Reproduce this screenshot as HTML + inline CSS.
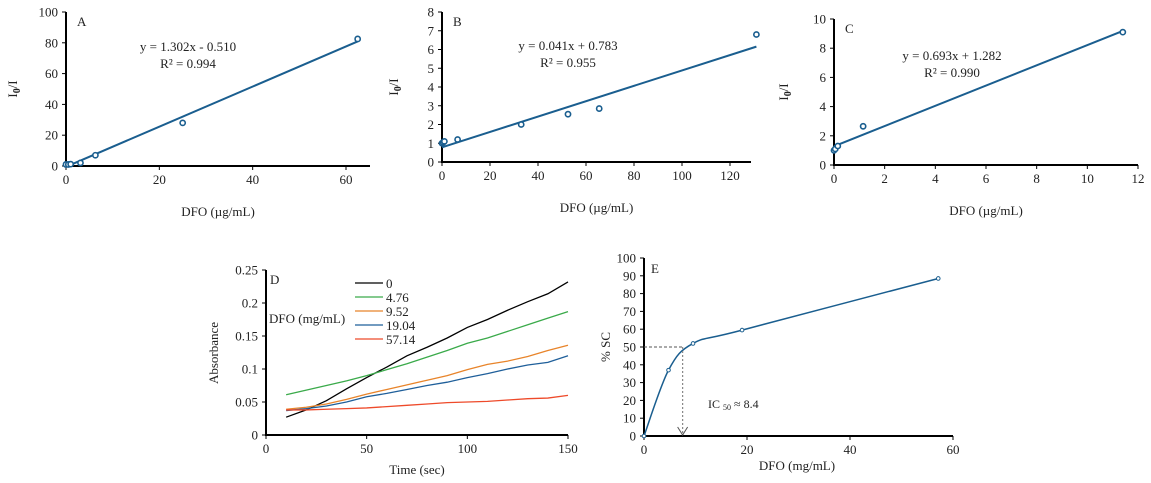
<!DOCTYPE html>
<html><head><meta charset="utf-8">
<style>
html,body{margin:0;padding:0;background:#fff;}
svg{display:block;font-family:"Liberation Serif",serif;}
</style></head>
<body>
<svg id="fig" width="1151" height="483" viewBox="0 0 1151 483" xmlns="http://www.w3.org/2000/svg"></svg>
<script>
// ---- Panel A data ----
const aX = [0, 0.5, 1, 3.1, 6.3, 25, 62.5];
const aY = [1, 1, 1.2, 2, 7, 28, 82.5];
const aXTicks = [0, 20, 40, 60];
const aYTicks = [0, 20, 40, 60, 80, 100];
// ---- Panel B data ----
const bX = [0, 0.5, 1, 6.5, 33, 52.5, 65.5, 131];
const bY = [1, 1.05, 1.1, 1.2, 2, 2.55, 2.85, 6.8];
const bXTicks = [0, 20, 40, 60, 80, 100, 120];
const bYTicks = [0, 1, 2, 3, 4, 5, 6, 7, 8];
// ---- Panel C data ----
const cX = [0, 0.05, 0.15, 1.15, 11.4];
const cY = [1, 1.1, 1.3, 2.65, 9.1];
const cXTicks = [0, 2, 4, 6, 8, 10, 12];
const cYTicks = [0, 2, 4, 6, 8, 10];
// ---- Panel D data ----
const dTime = [10, 20, 30, 40, 50, 60, 70, 80, 90, 100, 110, 120, 130, 140, 150];
const dLabels = ["0", "4.76", "9.52", "19.04", "57.14"];
const d0 = [0.027, 0.038, 0.052, 0.07, 0.087, 0.103, 0.12, 0.133, 0.147, 0.163, 0.175, 0.189, 0.202, 0.214, 0.232];
const d476 = [0.061, 0.068, 0.075, 0.082, 0.09, 0.099, 0.108, 0.118, 0.128, 0.139, 0.147, 0.157, 0.167, 0.177, 0.187];
const d952 = [0.039, 0.042, 0.047, 0.054, 0.062, 0.069, 0.076, 0.083, 0.09, 0.099, 0.107, 0.112, 0.119, 0.128, 0.136];
const d1904 = [0.037, 0.04, 0.044, 0.05, 0.058, 0.063, 0.069, 0.075, 0.08, 0.087, 0.093, 0.1, 0.106, 0.11, 0.12];
const d5714 = [0.038, 0.038, 0.039, 0.04, 0.041, 0.043, 0.045, 0.047, 0.049, 0.05, 0.051, 0.053, 0.055, 0.056, 0.06];
const dXTicks = [0, 50, 100, 150];
const dYTicks = ["0", "0.05", "0.1", "0.15", "0.2", "0.25"];
// ---- Panel E data ----
const eX = [0, 4.76, 9.52, 19.04, 57.14];
const eY = [0, 37, 52, 59.5, 88.5];
const eXTicks = [0, 20, 40, 60];
const eYTicks = [0, 10, 20, 30, 40, 50, 60, 70, 80, 90, 100];
const eIC50 = 7.5;

const NS = "http://www.w3.org/2000/svg";
const svg = document.getElementById('fig');
function mk(tag, attrs, parent, text) {
  const e = document.createElementNS(NS, tag);
  for (const k in attrs) e.setAttribute(k, attrs[k]);
  if (text !== undefined) e.textContent = text;
  (parent || svg).appendChild(e);
  return e;
}
const BLUE = "#1a5e8f";

function axes(p, name) {
  const g = mk('g', {});
  
  
  const sx = v => p.x0 + (v - p.xmin) / (p.xmax - p.xmin) * (p.x1 - p.x0);
  const sy = v => p.y0 - (v - p.ymin) / (p.ymax - p.ymin) * (p.y0 - p.y1);
  // axis lines
  const xa = mk('line', {x1: p.x0, y1: p.y0, x2: p.xr, y2: p.y0, stroke: '#000', 'stroke-width': 2}, g);
  
  
  const ya = mk('line', {x1: p.x0, y1: p.y0 + 1, x2: p.x0, y2: p.y1, stroke: '#000', 'stroke-width': 2}, g);
  
  
  p.xt.forEach(t => {
    const v = parseFloat(t), x = sx(v);
    mk('line', {x1: x, y1: p.y0, x2: x, y2: p.y0 + 4, stroke: '#000', 'stroke-width': 1}, g);
    const tl = mk('text', {x: x, y: p.y0 + 18, 'text-anchor': 'middle', 'font-size': 13, fill: '#222'}, g, t);
    
    
  });
  p.yt.forEach(t => {
    const v = parseFloat(t), y = sy(v);
    mk('line', {x1: p.x0 - 4, y1: y, x2: p.x0, y2: y, stroke: '#000', 'stroke-width': 1}, g);
    const tl = mk('text', {x: p.x0 - 8, y: y + 4.5, 'text-anchor': 'end', 'font-size': 13, fill: '#222'}, g, t);
    
    
  });
  return {g, sx, sy};
}
function ytitleI0(x, y, g) {
  const t = mk('text', {transform: `translate(${x},${y}) rotate(-90)`, 'text-anchor': 'middle', 'font-size': 13, fill: '#222'}, g);
  
  
  mk('tspan', {}, t, 'I');
  mk('tspan', {'font-size': 10, dy: 3, 'font-weight': 'bold'}, t, '0');
  mk('tspan', {dy: -3}, t, '/I');
}
function txt(x, y, s, name, g, extra) {
  const t = mk('text', Object.assign({x, y, 'font-size': 13, fill: '#222'}, extra || {}), g, s);
  
  
  return t;
}
function scatterPanel(p, xs, ys, slope, icpt, xEnd, name, letter, eq, r2, eqx, eqy, ytx) {
  const A = axes(p, name);
  const x0 = Math.min(...xs);
  const ln = mk('line', {x1: A.sx(x0), y1: A.sy(slope * x0 + icpt), x2: A.sx(xEnd), y2: A.sy(slope * xEnd + icpt), stroke: BLUE, 'stroke-width': 2}, A.g);
  
  
  xs.forEach((x, i) => {
    const c = mk('circle', {cx: A.sx(x), cy: A.sy(ys[i]), r: 2.6, fill: '#fff', stroke: BLUE, 'stroke-width': 1.6}, A.g);
    
    
  });
  txt(p.x0 + 11, p.y1 + 14, letter, 'panel-label', A.g);
  txt(eqx, eqy, eq, 'regression-equation', A.g, {'text-anchor': 'middle'});
  txt(eqx, eqy + 17, r2, 'r-squared', A.g, {'text-anchor': 'middle'});
  txt((p.x0 + p.xr) / 2, p.y0 + 50, 'DFO (µg/mL)', 'x-axis-title', A.g, {'text-anchor': 'middle'});
  ytitleI0(ytx, (p.y0 + p.y1) / 2, A.g);
  return A;
}
// Panel A
scatterPanel({x0: 66, x1: 346, xr: 370, y0: 166, y1: 12, xmin: 0, xmax: 60, ymin: 0, ymax: 100, xt: aXTicks.map(String), yt: aYTicks.map(String)},
  aX, aY, 1.302, -0.510, 62.5, 'panel-a', 'A', 'y = 1.302x - 0.510', 'R² = 0.994', 188, 51, 17);
// Panel B
scatterPanel({x0: 442, x1: 730, xr: 751, y0: 162, y1: 12, xmin: 0, xmax: 120, ymin: 0, ymax: 8, xt: bXTicks.map(String), yt: bYTicks.map(String)},
  bX, bY, 0.041, 0.783, 131, 'panel-b', 'B', 'y = 0.041x + 0.783', 'R² = 0.955', 568, 50, 398);
// Panel C
scatterPanel({x0: 834, x1: 1138, xr: 1138, y0: 165, y1: 19, xmin: 0, xmax: 12, ymin: 0, ymax: 10, xt: cXTicks.map(String), yt: cYTicks.map(String)},
  cX, cY, 0.693, 1.282, 11.4, 'panel-c', 'C', 'y = 0.693x + 1.282', 'R² = 0.990', 952, 60, 788);

// Panel D
(function () {
  const p = {x0: 266, x1: 568, xr: 568, y0: 435, y1: 270, xmin: 0, xmax: 150, ymin: 0, ymax: 0.25, xt: dXTicks.map(String), yt: dYTicks};
  const A = axes(p, 'panel-d');
  const series = [d0, d476, d952, d1904, d5714];
  const colors = ['#000000', '#3aaa4a', '#e8842a', '#1f5f9a', '#ee4a2a'];
  series.forEach((s, i) => {
    const pts = s.map((v, j) => A.sx(dTime[j]) + ',' + A.sy(v)).join(' ');
    const pl = mk('polyline', {points: pts, fill: 'none', stroke: colors[i], 'stroke-width': 1.3}, A.g);
    
    
    const ly = 283 + i * 14;
    const le = mk('g', {}, A.g);
    
    
    mk('line', {x1: 355, y1: ly, x2: 383, y2: ly, stroke: colors[i], 'stroke-width': 1.3}, le);
    txt(386, ly + 5, dLabels[i], 'legend-label', le);
  });
  txt(270, 284, 'D', 'panel-label', A.g);
  txt(269, 323, 'DFO (mg/mL)', 'legend-title', A.g);
  txt(417, 474, 'Time (sec)', 'x-axis-title', A.g, {'text-anchor': 'middle'});
  txt(0, 0, 'Absorbance', 'y-axis-title', A.g, {'text-anchor': 'middle', transform: 'translate(218,353) rotate(-90)'});
})();

// Panel E
(function () {
  const p = {x0: 644, x1: 953, xr: 953, y0: 436, y1: 258, xmin: 0, xmax: 60, ymin: 0, ymax: 100, xt: eXTicks.map(String), yt: eYTicks.map(String)};
  const A = axes(p, 'panel-e');
  // Catmull-Rom smooth curve
  const P = eX.map((x, i) => [A.sx(x), A.sy(eY[i])]);
  let d = `M${P[0][0]},${P[0][1]}`;
  for (let i = 0; i < P.length - 1; i++) {
    const p0 = P[Math.max(i - 1, 0)], p1 = P[i], p2 = P[i + 1], p3 = P[Math.min(i + 2, P.length - 1)];
    const c1 = [p1[0] + (p2[0] - p0[0]) / 6, p1[1] + (p2[1] - p0[1]) / 6];
    const c2 = [p2[0] - (p3[0] - p1[0]) / 6, p2[1] - (p3[1] - p1[1]) / 6];
    d += ` C${c1[0]},${c1[1]} ${c2[0]},${c2[1]} ${p2[0]},${p2[1]}`;
  }
  const cv = mk('path', {d, fill: 'none', stroke: BLUE, 'stroke-width': 1.5}, A.g);
  
  
  P.forEach(q => {
    const c = mk('circle', {cx: q[0], cy: q[1], r: 1.8, fill: '#fff', stroke: BLUE, 'stroke-width': 1}, A.g);
    
    
  });
  const hx = A.sx(eIC50), hy = A.sy(50);
  const h = mk('line', {x1: A.sx(0), y1: hy, x2: hx, y2: hy, stroke: '#555', 'stroke-width': 1, 'stroke-dasharray': '3,2'}, A.g);
  
  
  const v = mk('line', {x1: hx, y1: hy, x2: hx, y2: A.sy(0) - 1, stroke: '#888', 'stroke-width': 1.2, 'stroke-dasharray': '2,2'}, A.g);
  
  
  const ar = mk('polyline', {points: `${hx - 5},${A.sy(0) - 9} ${hx},${A.sy(0) - 1} ${hx + 5},${A.sy(0) - 9}`, fill: 'none', stroke: '#555', 'stroke-width': 1}, A.g);
  
  
  txt(651, 273, 'E', 'panel-label', A.g);
  const ic = txt(708, 408, 'IC ', 'ic50-label', A.g, {'font-size': 12});
  mk('tspan', {'font-size': 8, dy: 2}, ic, '50');
  mk('tspan', {dy: -2}, ic, ' ≈ 8.4');
  txt(797, 470, 'DFO (mg/mL)', 'x-axis-title', A.g, {'text-anchor': 'middle'});
  txt(0, 0, '% SC', 'y-axis-title', A.g, {'text-anchor': 'middle', transform: 'translate(610,347) rotate(-90)'});
})();
</script>
</body></html>
